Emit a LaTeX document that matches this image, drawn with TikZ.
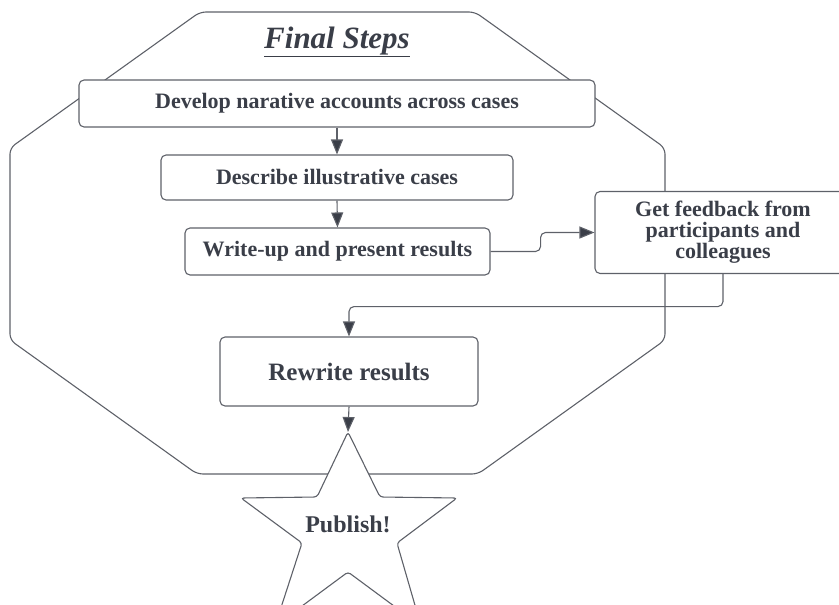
\documentclass[tikz,border=0pt]{standalone}
\usepackage{fontspec}
\setmainfont{Liberation Serif}
\usetikzlibrary{arrows.meta}
\definecolor{txt}{HTML}{3A3E48}
\definecolor{ln}{HTML}{5E6169}
\tikzset{
  box/.style={draw=ln, fill=white, rounded corners=5pt, line width=1.1pt, text=txt,
    font=\bfseries\fontsize{22}{24}\selectfont, inner sep=0pt, align=center},
  arr/.style={draw=ln, line width=1.1pt, -{Triangle[length=15pt,width=12pt,fill=txt]}},
  outline/.style={draw=ln, line width=1.1pt}
}
\begin{document}
\begin{tikzpicture}[x=1pt,y=-1pt]
\useasboundingbox (0,0) rectangle (839,605);
\clip (0,0) rectangle (839,605);
% octagon
\draw[outline, rounded corners=6pt] (200,12) -- (475,12) -- (665,148) -- (665,340) -- (478,474) -- (197,474) -- (10,340) -- (10,148) -- cycle;
% title
\node[text=txt, font=\bfseries\itshape\fontsize{31}{36}\selectfont] (title) at (337,42) {\underline{Final Steps}};
% boxes
\node[box, minimum width=516pt, minimum height=47pt] (b1) at (337,103.5) {Develop narative accounts across cases};
\node[box, minimum width=352pt, minimum height=45pt] (b2) at (337,177.5) {Describe illustrative cases};
\node[box, minimum width=305pt, minimum height=47pt] (b3) at (337.5,251.5) {Write-up and present results};
\node[box, minimum width=256pt, minimum height=82pt, font=\bfseries\fontsize{22}{21}\selectfont] (b4) at (723,232.5) {Get feedback from\\participants and\\colleagues};
\node[box, minimum width=258pt, minimum height=69pt, font=\bfseries\fontsize{25}{28}\selectfont] (b5) at (349,371.5) {Rewrite results};
% star
\coordinate (startop) at (348,432);
\draw[outline, fill=white, rounded corners=3pt] (startop) -- (380,497) -- (457,498) -- (397,543) -- (421,626) -- (348,572) -- (275,626) -- (302,543) -- (241,498) -- (317,497) -- cycle;
\node[text=txt, font=\bfseries\fontsize{24}{28}\selectfont] (pub) at (348,524) {Publish!};
% connectors
\draw[arr] (b1.south) -- (b2.north);
\draw[arr] (b2.south) -- (b3.north);
\draw[arr, rounded corners=5pt] (b3.east) -- ++(50,0) |- (b4.west);
\draw[arr, rounded corners=5pt] (b4.south) -- ++(0,32.5) -| (b5.north);
\draw[arr] (b5.south) -- (startop);
\end{tikzpicture}
\end{document}
